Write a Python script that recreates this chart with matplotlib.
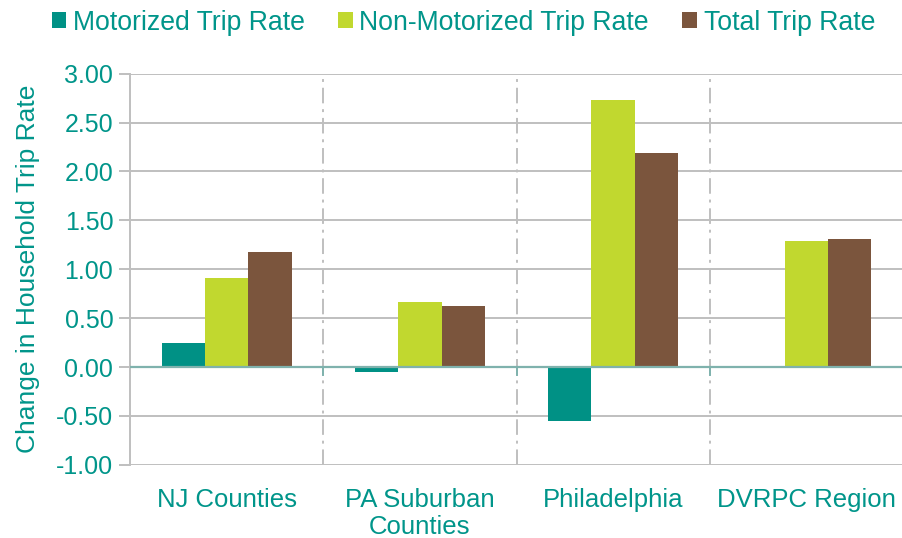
import numpy as np
import matplotlib.pyplot as plt

plt.rcParams['font.family'] = ['Liberation Sans', 'DejaVu Sans']

categories = ['NJ Counties', 'PA Suburban\nCounties', 'Philadelphia', 'DVRPC Region']
series = ['Motorized Trip Rate', 'Non-Motorized Trip Rate', 'Total Trip Rate']
motorized = [0.25, -0.05, -0.55, 0.01]
non_motorized = [0.91, 0.67, 2.73, 1.29]
total = [1.18, 0.62, 2.19, 1.31]
colors = ['#009185', '#c1d82f', '#7b553d']
teal = '#00958a'

fig = plt.figure(figsize=(9.03, 5.38), dpi=100)
ax = fig.add_axes([0.144, 0.136, 0.856, 0.727])

x = np.arange(len(categories))
w = 0.224
for i, (vals, name) in enumerate(zip([motorized, non_motorized, total], series)):
    ax.bar(x + (i - 1) * w, vals, w, color=colors[i], label=name, zorder=3)

ax.set_xlim(-0.5, len(categories) - 0.5)
ax.set_ylim(-1.0, 3.0)
ax.set_yticks(np.arange(-1.0, 3.01, 0.5))
ax.set_yticklabels([f'{v:.2f}' for v in np.arange(-1.0, 3.01, 0.5)])
ax.yaxis.grid(True, color='#bfbfbf', linewidth=1.4, zorder=0)
ax.tick_params(axis='y', length=8, color='#bfbfbf', width=1.4, labelcolor=teal, labelsize=18, pad=4)
ax.set_xticks(x)
ax.set_xticklabels(categories, color=teal, fontsize=18.5, linespacing=1.15)
ax.tick_params(axis='x', length=0, pad=17)

for b in range(1, len(categories)):
    ax.axvline(b - 0.5, color='#bfbfbf', linewidth=1.4, linestyle=(0, (8, 3, 1.5, 3)), zorder=1)
    ax.plot([b - 0.5, b - 0.5], [0, -0.08], color='#7fb2ad', linewidth=1.4, zorder=2)
ax.axhline(0, color='#7fb2ad', linewidth=1.6, zorder=4)

for s in ['top', 'right', 'bottom']:
    ax.spines[s].set_visible(False)
ax.spines['left'].set_color('#bfbfbf')
ax.spines['left'].set_linewidth(1.4)

ax.set_ylabel('Change in Household Trip Rate', color=teal, fontsize=19, labelpad=12)

fig.legend(loc='center', bbox_to_anchor=(0.513, 0.958), ncol=3, frameon=False,
           fontsize=19.2, labelcolor=teal, handlelength=0.55, handleheight=0.55,
           handletextpad=0.25, columnspacing=1.25)

fig.savefig('out.png', dpi=100)
